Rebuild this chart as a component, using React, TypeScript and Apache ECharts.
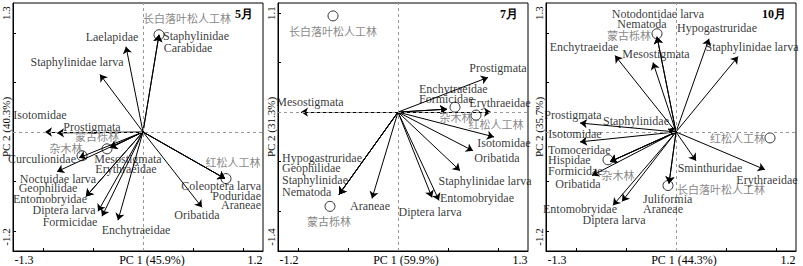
import React, { useEffect, useRef } from "react";
import * as echarts from "echarts";

// ---------- data ----------
const months = ["5月", "7月", "10月"];
const xNames = ["PC 1 (45.9%)", "PC 1 (59.9%)", "PC 1 (44.3%)"];
const yNames = ["PC 2 (40.3%)", "PC 2 (31.3%)", "PC 2 (35.7%)"];
const xMins = [-1.3, -1.2, -1.3];
const xMaxs = [1.2, 1.3, 1.2];
const yMins = [-1.2, -1.4, -1.2];
const yMaxs = [1.3, 1.1, 1.3];
const xTickLabels = [["-1.3", "1.2"], ["-1.2", "1.3"], ["-1.3", "1.2"]];
const yTickLabels = [["-1.2", "1.3"], ["-1.4", "1.1"], ["-1.2", "1.3"]];
const tickValues = [-1, -0.5, 0, 0.5, 1];

// May
const sp1 = ["Staphylinidae", "Carabidae", "Laelapidae", "Staphylinidae larva", "Isotomidae", "Prostigmata", "Mesostigmata", "Erythraeidae", "Curculionidae", "Noctuidae larva", "Geophilidae", "Entomobryidae", "Diptera larva", "Formicidae", "Enchytraeidae", "Oribatida", "Coleoptera larva", "Poduridae", "Araneae"];
const sp1X = [0.16, 0.16, -0.17, -0.43, -0.98, -0.86, -0.33, -0.33, -0.64, -0.86, -0.57, -0.57, -0.45, -0.41, -0.25, 0.59, 0.82, 0.82, 0.82];
const sp1Y = [0.98, 0.98, 0.86, 0.58, 0.0, -0.01, -0.16, -0.16, -0.26, -0.40, -0.65, -0.65, -0.80, -0.85, -0.89, -0.76, -0.47, -0.47, -0.47];
const site1 = ["长白落叶松人工林", "蒙古栎林", "杂木林", "红松人工林"];
const site1X = [0.16, -0.36, -0.61, 0.83];
const site1Y = [0.98, -0.17, -0.24, -0.47];

// July
const sp2 = ["Prostigmata", "Mesostigmata", "Enchytraeidae", "Formicidae", "Erythraeidae", "Isotomidae", "Oribatida", "Staphylinidae larva", "Entomobryidae", "Diptera larva", "Araneae", "Hypogastruridae", "Geophilidae", "Staphylinidae", "Nematoda"];
const sp2X = [0.90, -0.97, 0.49, 0.49, 0.93, 0.96, 0.75, 0.62, 0.41, 0.34, -0.26, -0.59, -0.59, -0.59, -0.59];
const sp2Y = [0.35, 0.0, 0.03, 0.03, 0.0, -0.25, -0.39, -0.59, -0.89, -0.86, -0.87, -0.83, -0.83, -0.83, -0.83];
const site2 = ["长白落叶松人工林", "杂木林", "红松人工林", "蒙古栎林"];
const site2X = [-0.65, 0.57, 0.78, -0.68];
const site2Y = [0.97, 0.05, -0.03, -0.95];

// October
const sp3 = ["Notodontidae larva", "Nematoda", "Hypogastruridae", "Staphylinidae larva", "Enchytraeidae", "Mesostigmata", "Prostigmata", "Staphylinidae", "Isotomidae", "Tomoceridae", "Hispidae", "Formicidae", "Oribatida", "Entomobryidae", "Diptera larva", "Juliformia", "Araneae", "Sminthuridae", "Erythraeidae"];
const sp3X = [-0.19, -0.19, 0.33, 0.62, -0.61, -0.23, -0.96, -0.08, -0.96, -0.66, -0.66, -0.66, -0.84, -0.63, -0.54, -0.07, -0.07, 0.20, 0.89];
const sp3Y = [0.96, 0.96, 0.94, 0.76, 0.77, 0.70, 0.09, 0.03, -0.10, -0.30, -0.30, -0.30, -0.44, -0.74, -0.70, -0.52, -0.52, -0.29, -0.38];
const site3 = ["蒙古栎林", "杂木林", "长白落叶松人工林", "红松人工林"];
const site3X = [-0.19, -0.68, -0.08, 0.94];
const site3Y = [0.99, -0.28, -0.54, -0.06];

// ---------- label layout (pixel offsets from the point, alignment) ----------
type Lab = [number, number, string?];
const spLab1: Lab[] = [[37, 1], [29, 13], [-14, -10], [-23, -12], [-5, -17], [35, -6], [18, 11], [16, 21], [-37, 1], [1, 7], [-38, -8], [-36, 3], [-34, -1], [-32, 6], [18, 10], [-5, 8], [36, 7, "right"], [36, 17, "right"], [36, 26, "right"]];
const siteLab1: Lab[] = [[28, -17], [-10, -13], [-16, -8], [7, -17]];
const spLab2: Lab[] = [[10, -9], [9, -10], [-28, -20, "left"], [-28, -10, "left"], [9, -9], [10, 6], [24, 7], [25, 10], [38, -2], [-2, 15], [-2, 8], [-57, -36, "left"], [-57, -26, "left"], [-57, -14, "left"], [-57, -2, "left"]];
const siteLab2: Lab[] = [[0, 15], [1, 10], [20, 9], [-1, 15]];
const spLab3: Lab[] = [[1, -23], [-15, -13], [8, -11], [14, -10], [-31, -9], [3, -9], [-7, -8], [-32, -8], [-5, -8], [-62, -12, "left"], [-62, -2, "left"], [-62, 9, "left"], [-14, 8], [-33, 4], [-8, 19], [-26, 15, "left"], [-26, 25, "left"], [14, 7], [2, 10]];
const siteLab3: Lab[] = [[-6, 1, "right"], [10, 15], [9, 3, "left"], [-5, 0, "right"]];

const gridLefts = [13, 278, 546];
const gridTop = 3;
const gridW = 250;
const gridH = 248;
const xNameShift = [28, 6, 26];

const SERIF = "Liberation Serif";
const CJK = "Noto Sans CJK SC";

function buildPanel(i: number, sp: string[], spX: number[], spY: number[], spLab: Lab[], st: string[], stX: number[], stY: number[], stLab: Lab[]) {
  const lines = {
    type: "lines",
    coordinateSystem: "cartesian2d",
    xAxisIndex: i,
    yAxisIndex: i,
    silent: true,
    z: 3,
    symbol: ["none", "arrow"],
    symbolSize: 7,
    lineStyle: { color: "#000", width: 1, opacity: 1, curveness: 0 },
    data: sp.map((_, k) => ({ coords: [[0, 0], [spX[k], spY[k]]] })),
  };
  const spLabels = {
    type: "scatter",
    xAxisIndex: i,
    yAxisIndex: i,
    silent: true,
    z: 5,
    symbolSize: 1,
    itemStyle: { color: "transparent" },
    label: { show: true, position: "inside", formatter: "{b}", color: "#000", fontSize: 12, fontFamily: SERIF },
    data: sp.map((n, k) => ({
      name: n,
      value: [spX[k], spY[k]],
      label: { offset: [spLab[k][0], spLab[k][1]], align: spLab[k][2] || "center" },
    })),
  };
  const sites = {
    type: "scatter",
    xAxisIndex: i,
    yAxisIndex: i,
    silent: true,
    z: 4,
    symbol: "circle",
    symbolSize: 10,
    itemStyle: { color: "transparent", borderColor: "#000", borderWidth: 1 },
    label: { show: true, position: "inside", formatter: "{b}", color: "#666", fontSize: 11, fontFamily: CJK },
    data: st.map((n, k) => ({
      name: n,
      value: [stX[k], stY[k]],
      label: { offset: [stLab[k][0], stLab[k][1]], align: stLab[k][2] || "center" },
    })),
    markLine: {
      silent: true,
      symbol: "none",
      label: { show: false },
      lineStyle: { color: "#999", type: [3, 3], width: 1 },
      data: [{ xAxis: 0 }, { yAxis: 0 }],
    },
  };
  return [lines, sites, spLabels];
}

export default function App() {
  const ref = useRef<HTMLDivElement>(null);
  useEffect(() => {
    if (!ref.current) return;
    const chart = echarts.init(ref.current, null, { renderer: "svg" });
    const grid = gridLefts.map((l) => ({
      left: l, top: gridTop, width: gridW, height: gridH,
      containLabel: false, outerBoundsMode: "none",
      show: true, borderColor: "#000", borderWidth: 1, backgroundColor: "transparent",
    }));
    const xAxis = [0, 1, 2].map((i) => ({
      gridIndex: i,
      type: "value",
      min: xMins[i],
      max: xMaxs[i],
      axisLine: { show: true, onZero: false, lineStyle: { color: "#000" } },
      axisTick: { show: true, inside: true, length: 3, customValues: tickValues, lineStyle: { color: "#000" } },
      splitLine: { show: false },
      axisLabel: {
        customValues: [xMins[i], xMaxs[i]],
        margin: 3,
        fontFamily: SERIF,
        formatter: (v: number) => (Math.abs(v - xMins[i]) < 1e-9 ? "{l|" + xTickLabels[i][0] + "}" : "{r|" + xTickLabels[i][1] + "}"),
        rich: {
          l: { padding: [0, 0, 0, 22], fontSize: 12, fontFamily: SERIF, color: "#000" },
          r: { padding: [0, 16, 0, 0], fontSize: 12, fontFamily: SERIF, color: "#000" },
        },
      },
      name: xNames[i],
      nameLocation: "middle",
      nameGap: 3,
      nameMoveOverlap: false,
      nameTextStyle: { color: "#000", fontSize: 12, fontFamily: SERIF, verticalAlign: "top", padding: [0, 0, 0, xNameShift[i]] },
    }));
    const yAxis = [0, 1, 2].map((i) => ({
      gridIndex: i,
      type: "value",
      min: yMins[i],
      max: yMaxs[i],
      axisLine: { show: true, onZero: false, lineStyle: { color: "#000" } },
      axisTick: { show: true, inside: true, length: 3, customValues: tickValues, lineStyle: { color: "#000" } },
      splitLine: { show: false },
      axisLabel: {
        customValues: [yMins[i], yMaxs[i]],
        rotate: 90,
        margin: 2,
        fontFamily: SERIF,
        formatter: (v: number) => (Math.abs(v - yMins[i]) < 1e-9 ? "{b|" + yTickLabels[i][0] + "}" : "{t|" + yTickLabels[i][1] + "}"),
        rich: {
          b: { padding: [0, 0, 0, 28], fontSize: 11, lineHeight: 11, fontFamily: SERIF, color: "#000" },
          t: { padding: [0, 20, 0, 0], fontSize: 11, lineHeight: 11, fontFamily: SERIF, color: "#000" },
        },
      },
      name: yNames[i],
      nameLocation: "middle",
      nameRotate: 90,
      nameGap: 2,
      nameMoveOverlap: false,
      nameTextStyle: { color: "#000", fontSize: 11, lineHeight: 11, fontFamily: SERIF },
    }));
    const title = months.map((m, i) => ({
      text: m,
      left: gridLefts[i] + gridW - 10,
      top: 8,
      padding: 0,
      textAlign: "right",
      textStyle: { fontSize: 12, fontWeight: "bold", color: "#000", fontFamily: SERIF },
    }));
    const series = [
      ...buildPanel(0, sp1, sp1X, sp1Y, spLab1, site1, site1X, site1Y, siteLab1),
      ...buildPanel(1, sp2, sp2X, sp2Y, spLab2, site2, site2X, site2Y, siteLab2),
      ...buildPanel(2, sp3, sp3X, sp3Y, spLab3, site3, site3X, site3Y, siteLab3),
    ];
    chart.setOption({
      animation: false,
      backgroundColor: "#fff",
      textStyle: { fontFamily: SERIF },
      title,
      grid,
      xAxis,
      yAxis,
      series,
    } as any);
    return () => chart.dispose();
  }, []);
  return <div ref={ref} style={{ position: "absolute", left: 0, top: 0, width: 803, height: 266 }} />;
}
